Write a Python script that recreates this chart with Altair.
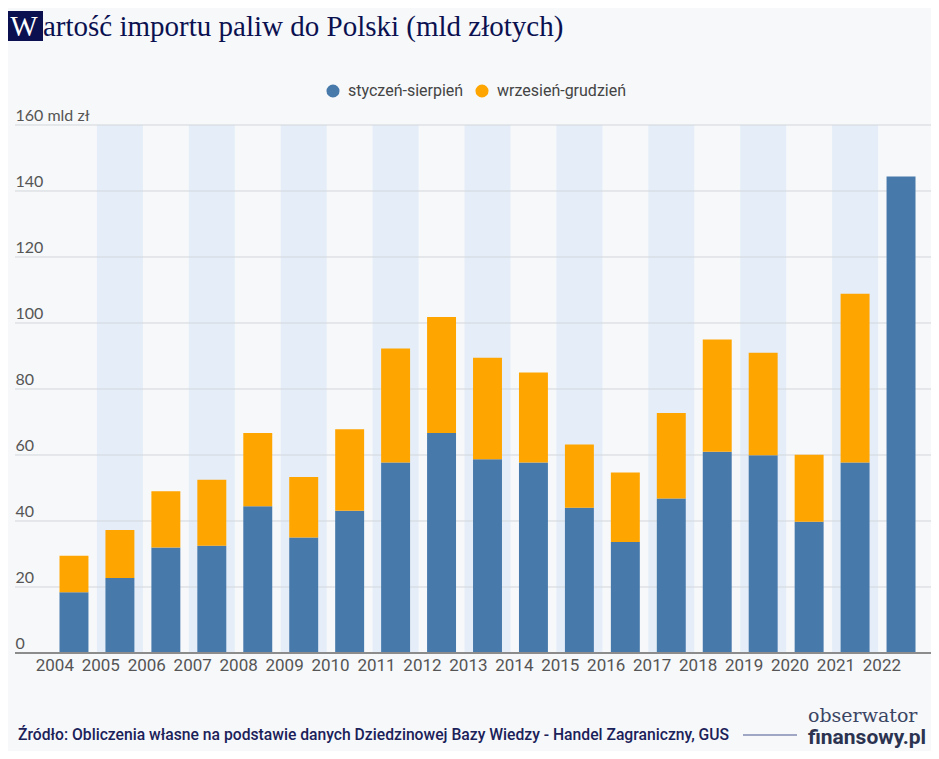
import altair as alt
import pandas as pd

years = [str(y) for y in range(2004, 2023)]
jan_aug = [18.4, 22.7, 32.0, 32.5, 44.5, 35.0, 43.1, 57.7, 66.7, 58.7,
           57.7, 44.0, 33.6, 46.8, 61.0, 59.9, 39.8, 57.7, 144.4]
sep_dec = [11.1, 14.6, 17.0, 20.0, 22.2, 18.3, 24.7, 34.6, 35.1, 30.8,
           27.3, 19.2, 21.1, 25.9, 34.0, 31.1, 20.3, 51.2, 0.0]
series = ["styczeń-sierpień", "wrzesień-grudzień"]
colors = ["#4779ab", "#ffa500"]
y_ticks = [0, 20, 40, 60, 80, 100, 120, 140, 160]
shaded_years = years[1::2]

title_rest = "artość importu paliw do Polski (mld złotych)"
source_text = "Źródło: Obliczenia własne na podstawie danych Dziedzinowej Bazy Wiedzy - Handel Zagraniczny, GUS"

W, H = 873, 528
NAVY = "#0b1150"
BG = "#f6f8fa"

rows = []
for i, y in enumerate(years):
    rows.append({"rok": y, "okres": series[0], "wartosc": jan_aug[i], "ord": 0})
    rows.append({"rok": y, "okres": series[1], "wartosc": sep_dec[i], "ord": 1})
df = pd.DataFrame(rows)

xscale = alt.Scale(domain=years, paddingInner=0, paddingOuter=0)
yscale = alt.Scale(domain=[0, 160], nice=False)

x_enc = alt.X("rok:N", scale=xscale, sort=years,
              axis=alt.Axis(title=None, labelAngle=0, labelFontSize=17, labelFont="Roboto",
                            labelColor="#555555", labelPadding=12, domain=False, ticks=False))

bands = alt.Chart(pd.DataFrame({"rok": shaded_years, "top": [160] * len(shaded_years)})).mark_rect(
    color="#e5eef8").encode(
    x=alt.X("rok:N", scale=xscale, sort=years),
    y=alt.Y("top:Q", scale=yscale),
    y2=alt.datum(0),
)

grid = alt.Chart(pd.DataFrame({"v": y_ticks[1:]})).mark_rule(color="#d3d6db", strokeWidth=1).encode(
    y=alt.Y("v:Q", scale=yscale),
    x=alt.value(-36), x2=alt.value(W + 7),
)

bars = alt.Chart(df).mark_bar(width=alt.RelativeBandSize(0.63)).encode(
    x=x_enc,
    y=alt.Y("sum(wartosc):Q", stack="zero", scale=yscale,
            axis=alt.Axis(values=y_ticks, title=None, grid=False, domain=False, ticks=False,
                          labelAlign="left", labelPadding=36, labelBaseline="alphabetic",
                          labelOffset=-5, labelFontSize=16, labelFont="Lato",
                          labelColor="#555555", labelOverlap=False,
                          labelExpr="datum.value == 160 ? '160 mld zł' : datum.label")),
    color=alt.Color("okres:N", scale=alt.Scale(domain=series, range=colors),
                    legend=alt.Legend(title=None, orient="none", direction="horizontal",
                                      legendX=274, legendY=-42, symbolType="circle",
                                      symbolSize=170, symbolStrokeWidth=0, labelFontSize=16,
                                      labelFont="Roboto", labelColor="#444444",
                                      labelOffset=7, columnPadding=10)),
    order=alt.Order("ord:Q"),
)

base_rule = alt.Chart(pd.DataFrame({"v": [0]})).mark_rule(color="#8c8c8c", strokeWidth=2).encode(
    y=alt.Y("v:Q", scale=yscale),
    x=alt.value(-36), x2=alt.value(W + 7),
)

one = pd.DataFrame({"t": [""]})

w_box = alt.Chart(one).mark_rect(color=NAVY).encode(
    x=alt.value(-43), x2=alt.value(-8), y=alt.value(-114), y2=alt.value(-84))
w_text = alt.Chart(pd.DataFrame({"t": ["W"]})).mark_text(
    font="Liberation Serif", fontSize=29, color="white", align="center", baseline="alphabetic").encode(
    x=alt.value(-27), y=alt.value(-89), text="t:N")
title_text = alt.Chart(pd.DataFrame({"t": [title_rest]})).mark_text(
    font="Liberation Serif", fontSize=29, color=NAVY, align="left", baseline="alphabetic").encode(
    x=alt.value(-8), y=alt.value(-89), text="t:N")

source = alt.Chart(pd.DataFrame({"t": [source_text]})).mark_text(
    font="Roboto", fontSize=15.7, fontWeight=500,
    color="#1b2159", align="left", baseline="alphabetic").encode(
    x=alt.value(-33), y=alt.value(615), text="t:N")
src_line = alt.Chart(one).mark_rule(color="#4a5690", strokeWidth=1).encode(
    x=alt.value(692), x2=alt.value(746), y=alt.value(610))
logo1 = alt.Chart(pd.DataFrame({"t": ["obserwator"]})).mark_text(
    font="DejaVu Serif", fontSize=19, color="#3b4563", align="left", baseline="alphabetic").encode(
    x=alt.value(757), y=alt.value(597), text="t:N")
logo2 = alt.Chart(pd.DataFrame({"t": ["finansowy.pl"]})).mark_text(
    font="Roboto", fontSize=21, fontWeight="bold", color="#2b3350", align="left",
    baseline="alphabetic").encode(
    x=alt.value(757), y=alt.value(619), text="t:N")

chart = alt.layer(
    bands, grid, bars, base_rule, w_box, w_text, title_text, source, src_line, logo1, logo2
).properties(
    width=W, height=H,
    background=BG,
    padding={"left": 43, "top": 117, "right": 7, "bottom": 98},
    autosize=alt.AutoSizeParams(type="none"),
).configure_view(stroke=None)

chart.save("out.html", embed_options={"renderer": "svg", "actions": False})
